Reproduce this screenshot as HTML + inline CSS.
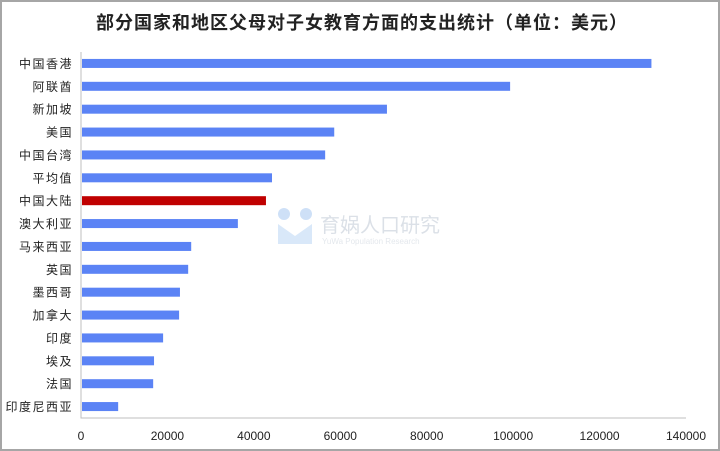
<!DOCTYPE html>
<html><head><meta charset="utf-8">
<style>
html,body{margin:0;padding:0;background:#fff;}
body{width:720px;height:451px;overflow:hidden;position:relative;font-family:"Liberation Sans","Noto Sans CJK SC",sans-serif;}
#frame{position:absolute;left:0;top:0;width:716px;height:447px;border:2px solid #a6a6a6;}
</style></head>
<body>
<div id="frame"></div>
<svg id="chart" width="720" height="451" style="position:absolute;left:0;top:0">
<text x="362" y="29" text-anchor="middle" font-size="18" font-weight="bold" fill="#222" font-family="Liberation Sans, Noto Sans CJK SC, sans-serif" letter-spacing="1">部分国家和地区父母对子女教育方面的支出统计（单位：美元）</text>
<g opacity="0.5">
<circle cx="284" cy="214" r="6" fill="#9ec3f0"/><circle cx="306" cy="214" r="6" fill="#9ec3f0"/>
<path d="M278 224 L295 236 L312 224 L312 244 L278 244 Z" fill="#b5d3f5"/>
<text x="320" y="232" font-size="20" fill="#b8c3d0" font-family="Noto Sans CJK SC, sans-serif">育娲人口研究</text>
<text x="322" y="244" font-size="8" fill="#c8d0da">YuWa Population Research</text>
</g>
<g id="plot"></g>
</svg>
<script>
const categories=["中国香港","阿联酋","新加坡","美国","中国台湾","平均值","中国大陆","澳大利亚","马来西亚","英国","墨西哥","加拿大","印度","埃及","法国","印度尼西亚"];
const values=[132000,99300,70800,58600,56500,44200,42800,36300,25500,24800,22900,22700,19000,16900,16700,8600];
const highlight=["中国大陆"];
const ticks=[0,20000,40000,60000,80000,100000,120000,140000];
const NS="http://www.w3.org/2000/svg";
const g=document.getElementById('plot');
const x0=81,x1=686,yTop=52,yBot=418,max=140000;
const xs=v=>x0+(v/max)*(x1-x0);
const band=(yBot-yTop)/categories.length;
const ys=i=>yTop+band*(i+0.5);
function mk(t,a){const e=document.createElementNS(NS,t);for(const k in a)e.setAttribute(k,a[k]);g.appendChild(e);return e;}
categories.forEach((c,i)=>{
 const r=mk('rect',{x:x0+1,y:ys(i)-4.5,width:xs(values[i])-x0-1,height:9,fill:highlight.includes(c)?'#c00000':'#5b83f5'});
 
 
 const t=mk('text',{x:x0-8,y:ys(i)+4.5,'text-anchor':'end','font-size':'12','letter-spacing':'1.5',fill:'#222'});
 t.textContent=c;
 
 
});
const ax=mk('path',{d:`M${x0} ${yTop}V${yBot}H${x1}`,stroke:'#bfbfbf','stroke-width':1,fill:'none'});


ticks.forEach(v=>{
 const t=mk('text',{x:xs(v),y:440,'text-anchor':'middle','font-size':'12',fill:'#222'});
 t.textContent=v;
 
 
});
</script>
</body></html>
